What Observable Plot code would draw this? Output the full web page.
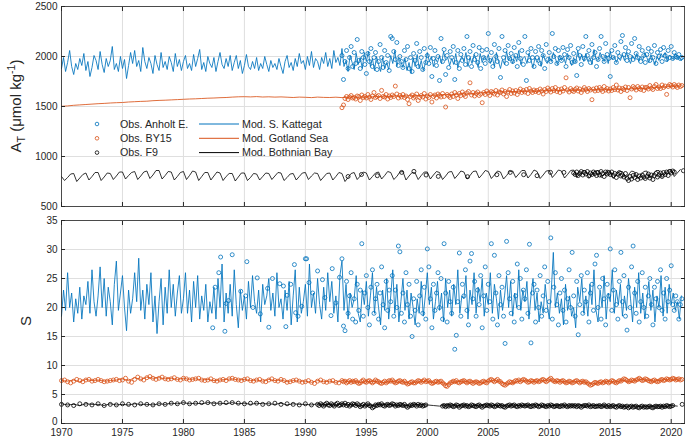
<!DOCTYPE html>
<html><head><meta charset="utf-8">
<script src="https://cdn.jsdelivr.net/npm/d3@7"></script>
<script src="https://cdn.jsdelivr.net/npm/@observablehq/plot@0.6"></script>
<style>
body{margin:0;background:#fff;font-family:"Liberation Sans",Arial,sans-serif}
#wrap{position:relative;width:685px;height:438px;overflow:hidden}
#wrap svg{display:block;overflow:visible}
</style>
</head><body><div id="wrap"></div>
<script>
// ---------- tick labels ----------
const xTicks = [1970,1975,1980,1985,1990,1995,2000,2005,2010,2015,2020];
const atTicks = [500,1000,1500,2000,2500];
const sTicks = [0,5,10,15,20,25,30,35];
const legendLabels = [["Obs. Anholt E.","Mod. S. Kattegat"],["Obs. BY15","Mod. Gotland Sea"],["Obs. F9","Mod. Bothnian Bay"]];

// ---------- Total alkalinity, model (S. Kattegat, 6/yr from 1970) ----------
const katAtMod = [
1880,1990,1850,1940,2060,1900, 1820,1930,1870,1980,1910,2030, 1860,1950,1800,1890,2010,1960,
1870,2050,1920,1840,1980,1900, 1960,2100,1870,1930,1850,2000, 1880,1970,1780,1910,2040,1930,
2060,1900,1960,1850,2090,1950, 1880,1990,1930,1830,2010,1920, 1860,2040,1890,1950,1870,2000,
1940,1850,2030,1900,1970,1860, 1950,2010,1880,1930,1860,2020, 1900,1980,2070,1870,1940,1850,
2000,1930,1890,1990,1850,1950, 2040,1920,1880,1980,1900,2010, 1860,1940,2010,1880,1960,1830,
1910,2020,1900,1870,1950,1880, 1990,1860,1930,1880,2000,1920, 1850,1960,1890,1930,1870,1980,
1900,1830,1950,2010,1890,1940, 1860,1980,1900,2030,1930,1960, 1870,2000,1910,2050,1890,1980,
1950,1870,1990,1930,2040,1900, 1980,1880,2060,1940,1990,1910, 2080,1900,1960,1850,2010,1940,
1870,2030,1920,1990,1880,2040, 1950,2050,1900,1980,1860,2000, 1920,1850,1990,1880,1940,1870,
2010,1930,2060,1900,1990,1950, 1890,1980,1860,1940,1830,1990, 1900,2020,1880,1960,1860,1930,
2040,1950,2000,1900,1980,1940, 2010,1930,2050,1960,1990,1910, 1980,1920,2030,1890,1960,2000,
1950,2040,1900,1990,1930,2020, 1970,1890,2030,1940,2000,1960, 2020,1930,1990,1900,2040,1950,
1880,1970,1920,2050,1960,2000, 1930,2010,1950,2060,1920,1980, 2000,1930,2030,1960,1890,1990,
1940,1990,1900,2020,1960,1930, 2000,1950,2040,1980,1920,2010, 1960,2000,1930,2030,1970,1910,
1990,1940,2060,1960,2020,1950, 2030,1950,1990,1920,2070,1980, 1960,2040,1990,1950,2010,1930,
2050,1970,2000,1940,1990,1960, 2020,1960,2040,1980,1930,2010, 1970,2030,1950,2000,1960,2040,
1990,1940,2020,1970,1920,2000, 1960,2030,1990,2040,1950,2010, 2000,1970,2030,1980,1990,1960];

// Gotland Sea model (2/yr from 1970)
const gotAtMod = [
1502,1506,1512,1516,1520,1524,1528,1531,1535,1538,1540,1545,1548,1551,1553,1558,1561,1563,1566,1569,
1572,1575,1577,1580,1583,1585,1588,1590,1594,1597,1598,1596,1599,1595,1597,1594,1596,1593,1590,1594,
1592,1589,1594,1591,1590,1593,1589,1594,1596,1592,1595,1598,1600,1597,1602,1605,1603,1608,1606,1611,
1614,1612,1617,1620,1618,1624,1627,1625,1634,1638,1643,1641,1646,1648,1650,1648,1652,1655,1653,1657,
1660,1658,1661,1664,1662,1665,1664,1667,1666,1669,1670,1672,1674,1676,1678,1681,1684,1688,1692,1696,
1701,1706];

// Bothnian Bay model (4/yr from 1970)
const botAtMod = [
800,760,790,825, 830,750,785,820, 835,765,800,840, 840,760,795,835, 830,770,805,845,
845,775,810,840, 850,770,805,845, 855,780,815,860, 860,775,810,850, 845,765,800,840,
850,770,810,855, 845,760,800,840, 840,765,805,845, 835,760,800,830, 830,755,795,835,
835,760,790,830, 825,765,800,835, 830,770,805,840, 835,760,790,825, 830,765,800,835,
840,770,805,835, 830,760,795,830, 835,765,800,840, 830,750,790,830, 840,770,805,845,
835,765,800,835, 845,775,810,850, 840,770,800,845, 850,765,805,840, 835,770,810,845,
845,775,815,850, 840,770,805,845, 850,780,815,855, 845,775,810,850, 855,785,820,860,
850,780,815,855, 845,775,810,850, 855,790,825,860, 860,785,820,865, 850,780,815,855,
860,790,825,865, 855,785,820,860, 865,790,825,860, 855,785,815,855, 860,790,820,865,
855,780,815,850, 850,785,820,855, 845,780,810,850, 855,785,820,860, 860,790,825,865,
870,800,835,870];

// ---------- Total alkalinity, observations ----------
// Anholt E. (8/yr from 1993)
const anhAtObs = [
2010,1770,1950,2060,1880,1990,2100,1900, 2040,1930,2170,1960,1880,2050,1990,1920,
1830,2030,1950,2080,1900,1990,2040,1870, 1950,2120,1990,1890,2060,1940,2010,1860,
2200,2180,2050,1970,2140,1910,2000,1950, 1890,2060,1970,2100,1880,1990,1850,2030,
1960,2130,1900,2050,1990,1870,2080,1940, 2010,1930,2090,1800,1980,2060,1910,2000,
1760,2180,1950,2070,1820,2010,1890,2050, 1990,2100,1770,1940,2060,1880,2020,1960,
2080,1920,2200,1990,2050,1900,2110,1970, 2020,1940,2090,1880,2060,1990,1930,2070,
2230,1960,2040,1900,2120,2000,1950,2080, 1790,2200,1990,2060,1930,2110,1980,2030,
1950,2090,2010,1900,2140,1980,2060,1920, 2200,1760,2040,1960,2080,1990,1900,2050,
1990,2100,1930,2060,2010,1880,2120,1970, 2040,1950,2230,2000,2080,1930,2060,1990,
1960,2090,2020,1900,2070,1990,2110,1940, 2030,1950,1810,2080,2010,1920,2100,1980,
2200,2010,2060,1940,2120,1990,2040,1900, 1970,2080,2200,2000,1950,2130,2020,1980,
1800,2060,1990,2110,1940,2040,2000,2150, 2210,2020,2090,1960,2050,2000,2130,1970,
2180,2030,1990,2100,1950,2060,2010,1940, 2020,2080,1960,2050,1990,2110,1930,2040,
2000,2070,1950,2090,2010,1970,2060,1990, 2100,1980,2040,2000,1990,2020,1980,1990];

// BY15 (8/yr from 1993)
const by15AtObs = [
1488,1515,1580,1600,1570,1595,1610,1585, 1590,1575,1605,1598,1560,1615,1590,1600,
1585,1620,1595,1570,1605,1640,1590,1600, 1610,1580,1661,1600,1595,1620,1575,1605,
1590,1615,1600,1704,1625,1585,1610,1595, 1620,1590,1605,1570,1528,1600,1615,1585,
1600,1625,1560,1590,1610,1595,1630,1575, 1605,1590,1620,1545,1600,1615,1585,1625,
1610,1595,1630,1600,1495,1620,1605,1590, 1625,1600,1640,1615,1580,1630,1610,1645,
1620,1600,1635,1650,1737,1615,1640,1605, 1630,1645,1610,1625,1538,1640,1620,1655,
1635,1610,1650,1640,1625,1660,1615,1645, 1640,1665,1625,1650,1600,1645,1670,1630,
1655,1635,1660,1620,1650,1675,1640,1660, 1645,1670,1630,1680,1655,1640,1665,1650,
1660,1640,1675,1655,1625,1670,1650,1685, 1665,1645,1680,1660,1690,1650,1670,1640,
1675,1655,1690,1787,1665,1645,1680,1660, 1650,1670,1685,1655,1675,1640,1665,1690,
1670,1650,1680,1665,1568,1675,1655,1685, 1660,1690,1670,1650,1700,1665,1680,1655,
1675,1660,1690,1670,1715,1665,1685,1650, 1680,1670,1695,1660,1690,1588,1675,1700,
1685,1665,1700,1680,1670,1695,1660,1690, 1690,1675,1710,1685,1670,1700,1720,1680,
1695,1680,1715,1690,1705,1621,1700,1720, 1710,1695,1720,1705,1690,1715,1700,1710];

// F9, sparse samples
const f9AtSparseYears = [1993.5,1994.6,1995.9,1997.9,1998.9,1999.9,2000.9,2003.3,2005.7,2006.8,2007.9,2009.0,2010.1,2011.2,2021.0];
const f9AtSparseVals  = [800,820,808,841,851,815,801,798,818,841,818,808,841,841,858];
// F9, dense (8/yr from 2012)
const f9AtDense = [
835,820,845,810,830,850,815,840, 825,850,805,835,820,845,830,810,
840,815,850,830,800,845,825,835, 820,845,810,830,790,825,840,805,
815,795,830,780,760,800,775,810, 790,820,770,805,785,815,795,780,
800,825,785,815,770,810,830,795, 815,835,800,840,820,845,810,850,
835,855,845];

// ---------- Salinity, model (S. Kattegat, 6/yr from 1970) ----------
const katSMod = [
18.5,23.0,19.5,26.0,20.0,22.5, 17.5,21.5,19.0,23.5,18.0,22.0, 20.5,24.5,19.0,26.5,21.0,18.5,
22.0,27.0,20.0,25.0,18.5,23.5, 21.0,17.0,24.0,28.0,19.5,22.5, 25.5,20.0,16.0,23.0,19.0,21.5,
26.0,21.0,28.5,19.5,23.0,18.0, 24.0,20.5,26.0,17.5,22.0,15.5, 21.0,25.0,17.0,23.5,19.0,26.5,
20.0,24.0,18.5,22.5,25.5,19.0, 21.5,26.0,19.0,23.0,17.5,24.5, 20.0,25.5,18.0,22.0,19.5,24.0,
17.5,21.0,19.0,23.5,18.0,25.0, 20.0,27.5,17.5,22.5,19.0,24.0, 18.5,26.5,20.5,16.5,23.0,19.5,
22.0,18.0,24.5,20.0,25.5,21.0, 19.0,23.0,17.5,24.0,20.5,22.0, 25.0,19.5,22.5,18.5,26.0,20.0,
21.5,18.0,23.0,19.5,24.5,17.0, 22.0,26.5,17.5,23.5,19.0,21.0, 24.0,18.5,27.5,20.0,22.5,19.0,
25.0,20.5,18.0,23.5,19.5,26.0, 21.0,24.5,19.0,22.0,17.5,25.5, 28.0,19.5,24.0,18.0,22.5,20.0,
21.5,25.5,19.0,17.5,23.0,20.5, 24.5,18.5,22.0,26.0,19.0,23.5, 20.0,17.0,23.0,19.5,25.0,18.0,
22.0,26.5,19.0,24.0,17.5,21.0, 25.0,19.5,23.0,18.0,22.5,20.0, 17.0,21.5,19.0,24.5,18.5,22.0,
26.0,20.5,23.5,18.0,21.0,24.5, 19.5,22.5,17.5,25.0,20.0,23.0, 18.5,24.0,20.5,26.5,19.0,22.0,
21.5,25.5,18.0,23.0,20.5,26.0, 19.0,23.5,21.0,25.0,18.5,22.5, 20.5,26.0,19.0,24.0,21.5,18.0,
23.0,19.5,22.0,25.5,20.0,24.5, 18.5,22.5,20.0,26.5,19.5,23.0, 21.0,24.5,18.0,22.0,25.0,19.5,
22.5,17.5,21.0,19.0,24.0,20.5, 18.0,23.0,29.5,20.0,22.5,19.0, 21.5,17.0,24.0,19.5,22.0,18.5,
20.0,16.5,23.5,21.0,25.0,19.0, 22.0,18.5,24.0,20.5,26.5,19.5, 17.5,23.0,20.0,25.5,18.0,22.5,
21.0,26.5,19.0,23.0,20.5,24.0, 18.5,22.0,19.5,25.0,21.5,17.5, 23.5,20.0,26.0,19.0,22.5,18.0,
21.0,24.5,19.5,23.0,17.5,22.0, 20.0,25.5,18.5,23.5,19.0,24.0, 20.5,22.5,19.5,21.0,18.0,22.0];

const gotSMod = [
7.4,7.3,7.5,7.2,7.6,7.4,7.5,7.3,7.4,7.5,7.7,7.4,7.9,7.6,8.0,7.8,7.9,7.7,7.8,7.6,
7.8,7.6,7.7,7.5,7.6,7.4,7.5,7.6,7.7,7.5,7.6,7.4,7.5,7.3,7.6,7.4,7.5,7.2,7.4,7.3,
7.3,7.1,7.4,7.2,7.3,7.1,7.4,7.2,7.3,7.0,7.2,7.3,7.2,7.0,7.3,7.1,7.2,6.9,7.1,7.2,
7.3,7.0,7.2,6.8,7.1,7.2,7.3,7.1,7.2,7.0,7.3,7.4,7.2,6.8,7.0,7.3,7.4,7.2,7.3,7.4,
7.5,7.2,7.3,7.1,7.2,7.3,7.1,6.8,7.0,7.2,7.3,7.1,7.5,7.2,7.4,7.6,7.5,7.3,7.4,7.6,
7.5,7.6];

const botSMod = [
3.4,3.2,3.3,3.1,3.4,3.3,3.3,3.1,3.4,3.2,3.3,3.2,3.4,3.3,3.3,3.2,3.4,3.3,3.5,3.4,
3.6,3.4,3.5,3.4,3.6,3.5,3.5,3.4,3.6,3.4,3.5,3.3,3.5,3.4,3.4,3.3,3.5,3.2,3.4,3.3,
3.3,3.2,3.4,3.2,3.3,3.1,3.4,3.2,3.3,3.0,3.2,3.1,3.3,3.2,3.3,3.1,3.2,3.0,3.3,3.2,
3.2,3.1,3.0,3.2,3.2,3.1,3.2,3.0,3.1,3.2,3.2,3.1,3.1,3.0,3.2,3.1,3.1,3.2,3.2,3.0,
3.1,3.1,3.2,3.0,3.1,3.2,3.0,3.1,3.1,3.0,3.0,3.1,2.9,3.0,3.0,2.9,2.9,3.0,3.0,2.9,
3.1,3.0];

// ---------- Salinity, observations ----------
const anhSSparseYears = [1982.4,1982.6,1982.9,1983.05,1983.4,1983.5,1983.7,1984.0,1984.7,1985.1,1985.2,1985.7,1986.05,1986.3,1986.9,1987.0,1987.3,1987.9,1988.2,1988.4,1988.5,1988.8,1989.1,1989.2,1989.4,1989.7,1990.0,1990.1,1990.3,1990.6,1991.0,1991.4,1991.6,1992.1,1992.2,1992.5,1992.8];
const anhSSparseVals  = [16.5,23.5,26.0,28.7,15.9,20.7,21.2,29.1,22.8,22.0,27.9,20.0,25.1,18.9,23.3,16.6,25.0,24.1,23.7,16.7,22.1,24.0,27.4,19.1,18.5,20.2,28.4,28.4,24.3,22.5,26.3,24.8,21.7,18.6,26.7,20.8,25.2];
const anhSObs = [
28.4,16.8,16.0,24.5,19.0,22.0,26.0,18.0, 21.5,17.5,24.0,19.5,23.0,31.0,18.5,22.5,
25.5,20.0,17.0,23.5,26.5,19.0,21.5,24.0, 18.0,22.5,27.0,20.5,16.5,24.5,19.5,23.0,
21.0,25.5,18.5,23.0,20.0,30.6,29.6,19.0, 22.5,17.5,26.0,20.5,24.0,18.5,15.0,21.5,
19.5,24.5,17.0,22.0,26.5,19.0,23.5,18.0, 30.1,27.0,21.5,16.5,24.0,19.5,22.5,26.0,
20.0,25.0,18.0,31.0,22.5,17.5,24.5,21.0, 19.0,23.5,12.8,15.2,21.0,29.4,18.5,24.0,
22.0,26.5,19.5,17.0,28.0,29.3,21.5,24.5, 18.5,23.0,20.5,25.5,16.5,22.0,27.0,19.5,
24.0,21.0,31.0,18.0,29.0,22.5,17.0,25.5, 20.5,23.5,18.5,13.8,31.4,26.0,21.5,19.0,
24.5,17.5,22.0,27.5,20.0,25.0,18.0,23.0, 21.5,26.5,19.0,30.9,13.9,22.5,24.0,17.5,
23.0,20.0,25.5,18.5,22.0,27.0,19.5,24.5, 21.0,32.0,18.0,23.5,26.0,20.5,17.0,22.5,
25.0,19.5,23.0,17.5,21.5,26.5,20.0,29.5, 22.0,18.5,24.5,15.3,20.5,25.5,19.0,23.0,
21.0,26.0,17.5,22.5,24.0,19.5,27.5,29.0, 20.0,23.5,18.0,25.0,21.5,17.0,24.0,22.0,
30.1,19.5,23.0,26.5,20.5,18.0,24.5,29.5, 21.0,25.5,18.5,16.1,23.5,20.0,27.0,30.6,
22.5,19.0,24.5,17.5,21.0,26.0,20.0,23.5, 18.5,22.0,25.0,20.5,17.0,23.5,21.5,24.5,
20.0,26.5,19.5,22.5,18.0,25.0,21.0,23.0, 27.2,20.5,19.5,22.0,21.0,18.0,20.5,21.5];

// BY15: 4/yr 1970-1992, 8/yr from 1993
const by15SObsEarly = [
7.4,7.5,7.2,7.0, 7.3,7.6,7.4,7.2, 7.5,7.6,7.3,7.4, 7.6,7.4,7.2,7.3, 7.4,7.5,7.6,7.4,
7.5,7.8,7.3,7.1, 7.6,8.0,7.7,7.5, 7.9,8.1,7.8,7.6, 7.8,8.0,7.7,7.6, 7.7,7.9,7.6,7.5,
7.8,7.7,7.5,7.6, 7.7,7.8,7.5,7.4, 7.5,7.7,7.4,7.3, 7.5,7.6,7.4,7.7, 7.8,7.6,7.5,7.4,
7.6,7.7,7.4,7.3, 7.5,7.6,7.3,7.2, 7.5,7.7,7.4,7.3, 7.6,7.4,7.1,7.2, 7.4,7.5,7.3,7.1,
7.2,7.4,7.1,6.9, 7.3,7.5,7.2,7.1, 7.3,7.4,7.1,7.0];
const by15SObs = [
7.4,7.2,7.3,7.0,7.2,7.4,7.1,7.3, 7.2,7.4,7.1,6.9,7.0,7.3,7.5,7.2, 7.1,7.3,7.4,7.2,7.0,7.2,7.5,7.3,
7.2,7.0,6.9,7.1,7.3,7.0,7.2,7.4, 7.3,7.5,7.2,7.0,7.1,7.3,7.4,7.2, 7.1,7.3,7.0,6.8,6.9,7.1,7.2,7.0,
7.0,7.2,7.4,7.3,7.1,7.3,7.5,7.2, 7.3,7.4,7.1,6.9,7.0,7.2,7.3,7.1, 7.2,7.3,7.0,6.8,6.5,6.4,6.7,7.0,
7.1,7.3,7.2,7.4,7.1,7.0,7.2,7.3, 7.4,7.2,7.0,7.2,7.3,7.1,6.9,7.1, 7.2,7.1,6.9,7.0,7.2,7.3,7.1,7.0,
7.3,7.5,7.6,7.4,7.2,7.4,7.6,7.3, 7.2,6.9,6.7,6.6,6.8,7.0,7.2,7.1, 7.0,7.2,7.4,7.3,7.5,7.2,7.4,7.6,
7.5,7.3,7.1,7.2,7.4,7.3,7.1,7.3, 7.4,7.2,7.3,7.5,7.6,7.4,7.2,7.4, 7.6,7.8,7.5,7.3,7.2,7.4,7.3,7.1,
7.3,7.4,7.2,7.0,7.1,7.3,7.2,7.0, 7.1,7.3,7.4,7.2,7.0,7.2,7.3,7.1, 7.2,7.0,6.8,6.6,6.7,6.9,7.1,7.0,
6.9,7.1,7.2,7.0,7.1,7.3,7.2,7.0, 7.2,7.4,7.3,7.1,7.0,7.2,7.4,7.3, 7.5,7.7,7.6,7.4,7.2,7.3,7.5,7.4,
7.3,7.5,7.6,7.8,7.6,7.4,7.5,7.7, 7.6,7.4,7.3,7.2,7.4,7.5,7.3,7.2, 7.3,7.5,7.6,7.4,7.5,7.7,7.6,7.5,
7.6,7.8,7.7,7.5,7.6,7.7,7.5,7.6];

// F9: 2/yr 1970-1990, 8/yr 1991-1999, 8/yr from 2001.25
const f9SObsEarly = [
3.3,3.2,3.1,3.4,3.3,3.2,3.4,3.1,3.3,3.2,3.4,3.3,3.2,3.4,3.3,3.2,3.4,3.3,3.5,3.4,
3.6,3.4,3.5,3.6,3.6,3.4,3.5,3.6,3.6,3.5,3.4,3.5,3.5,3.3,3.4,3.5,3.3,3.4,3.3,3.2,
3.4,3.2];
const f9SObsMid = [
3.3,3.1,3.4,3.2,3.0,3.3,3.5,3.2, 3.1,3.4,3.2,3.0,3.3,3.5,3.1,3.2, 3.4,3.2,3.5,3.1,3.3,3.0,3.2,3.4,
3.3,3.1,3.4,3.2,2.9,3.1,3.3,3.0, 3.2,3.4,3.1,3.0,2.7,2.9,3.2,3.1, 3.3,3.2,3.4,3.1,3.0,3.2,3.3,3.1,
3.2,3.4,3.3,3.0,3.2,3.1,3.3,3.2, 3.1,3.3,3.0,2.8,3.0,3.2,3.1,3.3, 3.2,3.0,3.3,3.1,3.2,3.0,3.1,3.2];
const f9SObsLate = [
3.0,3.1,2.9,3.1,3.0,3.2,
3.1,2.9,3.0,3.2,3.1,2.8,3.0,3.1, 3.2,3.0,3.1,2.9,3.0,3.2,3.1,3.0, 2.9,3.1,3.2,3.0,2.8,3.0,3.1,3.2,
3.1,3.0,3.2,3.1,2.9,3.0,3.2,3.1, 3.0,3.1,2.9,2.8,3.0,3.1,3.2,3.0, 3.1,3.2,3.0,2.9,3.1,3.0,3.2,3.1,
3.0,3.1,3.2,3.0,2.9,3.1,3.0,3.2, 3.1,2.9,3.0,3.2,3.1,3.0,2.9,3.1, 3.0,3.2,3.1,2.9,3.0,3.1,3.0,2.9,
3.1,3.0,3.2,3.0,2.9,3.1,3.0,3.1, 3.0,3.1,2.9,3.1,3.0,2.8,3.0,3.1, 3.1,3.0,3.2,2.9,3.0,3.1,2.9,3.0,
3.0,3.1,2.9,3.0,3.2,3.0,2.9,3.1, 2.9,3.0,3.1,2.9,2.8,3.0,3.1,2.9, 3.0,2.8,2.9,3.0,2.7,2.9,3.0,2.8,
2.9,3.0,2.8,2.7,2.9,3.0,2.8,2.9, 2.8,2.9,3.0,2.8,2.7,2.9,3.0,2.9, 2.9,3.0,2.8,3.0,2.9,3.1,3.0,2.9,
3.0,3.1];
const f9SLastYears = [2020.9];
const f9SLastVals = [3.3];

// ---------- helpers ----------
const seq = (start, step, vals) => vals.map((v, i) => ({t: start + i * step, v}));
const pairs = (ts, vs) => ts.map((t, i) => ({t, v: vs[i]}));

const BLUE = "#0072BD", ORANGE = "#D95319", BLACK = "#000000", AX = "#262626", GRID = "#dfdfdf";
const W = 685, ML = 61, MR = 1;
const xDomain = [1970, 2021.09];

function obs(data, color) {
  return Plot.dot(data, {x: "t", y: "v", r: 2, stroke: color, strokeWidth: 0.8, fill: "none"});
}
function line(data, color, w = 0.85) {
  return Plot.line(data, {x: "t", y: "v", stroke: color, strokeWidth: w});
}
function axesMarks(yTicks, labelsX, lowTickDy) {
  const m = [
    Plot.frame({stroke: AX, strokeWidth: 0.8}),
    Plot.axisX(xTicks, {anchor: "bottom", tickSize: 4, dy: -4, tickFormat: () => "", stroke: AX, label: null}),
    Plot.axisX(xTicks, {anchor: "top", tickSize: 4, dy: 4, tickFormat: () => "", stroke: AX, label: null}),
    Plot.axisY(yTicks, {anchor: "left", tickSize: 4, dx: 4, tickFormat: () => "", stroke: AX, label: null}),
    Plot.axisY(yTicks, {anchor: "right", tickSize: 4, dx: -4, tickFormat: () => "", stroke: AX, label: null}),
    Plot.axisY(yTicks.slice(1), {anchor: "left", tickSize: 0, tickPadding: 4, fill: AX, label: null, fontSize: 10, tickFormat: d => String(d)}),
    Plot.axisY(yTicks.slice(0, 1), {anchor: "left", tickSize: 0, tickPadding: 4, dy: lowTickDy, fill: AX, label: null, fontSize: 10, tickFormat: d => String(d)})
  ];
  if (labelsX) m.push(Plot.axisX(xTicks, {anchor: "bottom", tickSize: 0, tickPadding: 5.4, fill: AX, label: null, fontSize: 10, tickFormat: d => String(d)}));
  return m;
}

const style = {fontFamily: "'Liberation Sans', Arial, sans-serif", fontSize: "10px", color: AX, background: "white", overflow: "visible"};

// ---------- top panel: total alkalinity ----------
const topPlot = Plot.plot({
  width: W, height: 215, marginLeft: ML, marginRight: MR, marginTop: 6, marginBottom: 9,
  style,
  x: {domain: xDomain, axis: null, label: null},
  y: {domain: [500, 2500], axis: null, label: null},
  marks: [
    Plot.gridX(xTicks, {stroke: GRID, strokeOpacity: 1}),
    Plot.gridY(atTicks, {stroke: GRID, strokeOpacity: 1}),
    obs(seq(1993, 1/8, anhAtObs), BLUE),
    obs(seq(1993, 1/8, by15AtObs), ORANGE),
    obs(pairs(f9AtSparseYears, f9AtSparseVals), BLACK),
    obs(seq(2012, 1/8, f9AtDense), BLACK),
    line(seq(1970, 1/6, katAtMod), BLUE),
    line(seq(1970, 1/2, gotAtMod), ORANGE),
    line(seq(1970, 1/4, botAtMod), BLACK, 0.8),
    ...axesMarks(atTicks, false, 0)
  ]
});

// ---------- bottom panel: salinity ----------
const bottomPlot = Plot.plot({
  width: W, height: 223, marginLeft: ML, marginRight: MR, marginTop: 5, marginBottom: 15,
  style,
  x: {domain: xDomain, axis: null, label: null},
  y: {domain: [0, 35], axis: null, label: null},
  marks: [
    Plot.gridX(xTicks, {stroke: GRID, strokeOpacity: 1}),
    Plot.gridY(sTicks, {stroke: GRID, strokeOpacity: 1}),
    obs(pairs(anhSSparseYears, anhSSparseVals), BLUE),
    obs(seq(1993, 1/8, anhSObs), BLUE),
    obs(seq(1970, 1/4, by15SObsEarly), ORANGE),
    obs(seq(1993, 1/8, by15SObs), ORANGE),
    obs(seq(1970, 1/2, f9SObsEarly), BLACK),
    obs(seq(1991, 1/8, f9SObsMid), BLACK),
    obs(seq(2001.25, 1/8, f9SObsLate), BLACK),
    obs(pairs(f9SLastYears, f9SLastVals), BLACK),
    line(seq(1970, 1/6, katSMod), BLUE),
    line(seq(1970, 1/2, gotSMod), ORANGE),
    line(seq(1970, 1/2, botSMod), BLACK, 0.8),
    ...axesMarks(sTicks, true, -2)
  ]
});

const wrap = document.getElementById("wrap");
wrap.appendChild(topPlot);
wrap.appendChild(bottomPlot);

// ---------- y-axis titles ----------
const FONT = "'Liberation Sans', Arial, sans-serif";
{
  const t = d3.select(topPlot).append("text")
    .attr("transform", "translate(21,106) rotate(-90)")
    .attr("text-anchor", "middle").attr("font-family", FONT)
    .attr("font-size", 15).attr("fill", AX);
  t.append("tspan").text("A");
  t.append("tspan").attr("dy", 4).attr("font-size", 10.5).text("T");
  t.append("tspan").attr("dy", -4).text(" (μmol kg");
  t.append("tspan").attr("dy", -6).attr("font-size", 10.5).text("-1");
  t.append("tspan").attr("dy", 6).text(")");
}
d3.select(bottomPlot).append("text")
  .attr("transform", "translate(31,106) rotate(-90)")
  .attr("text-anchor", "middle").attr("font-family", FONT)
  .attr("font-size", 15).attr("fill", AX).text("S");

// ---------- legend ----------
{
  const colors = [BLUE, ORANGE, BLACK];
  const g = d3.select(topPlot).append("g").attr("font-family", FONT).attr("font-size", 10.7)
    .attr("fill", AX).attr("text-anchor", "start");
  legendLabels.forEach(([o, m], i) => {
    const y = 124 + i * 14.3;
    g.append("circle").attr("cx", 97).attr("cy", y).attr("r", 1.8)
      .attr("fill", "none").attr("stroke", colors[i]).attr("stroke-width", 0.8);
    g.append("text").attr("x", 120).attr("y", y).attr("dy", "0.35em").attr("text-anchor", "start").text(o);
    g.append("line").attr("x1", 199).attr("x2", 239).attr("y1", y).attr("y2", y)
      .attr("stroke", colors[i]).attr("stroke-width", 1);
    g.append("text").attr("x", 242).attr("y", y).attr("dy", "0.35em").attr("text-anchor", "start").text(m);
  });
}
</script>
</body></html>
